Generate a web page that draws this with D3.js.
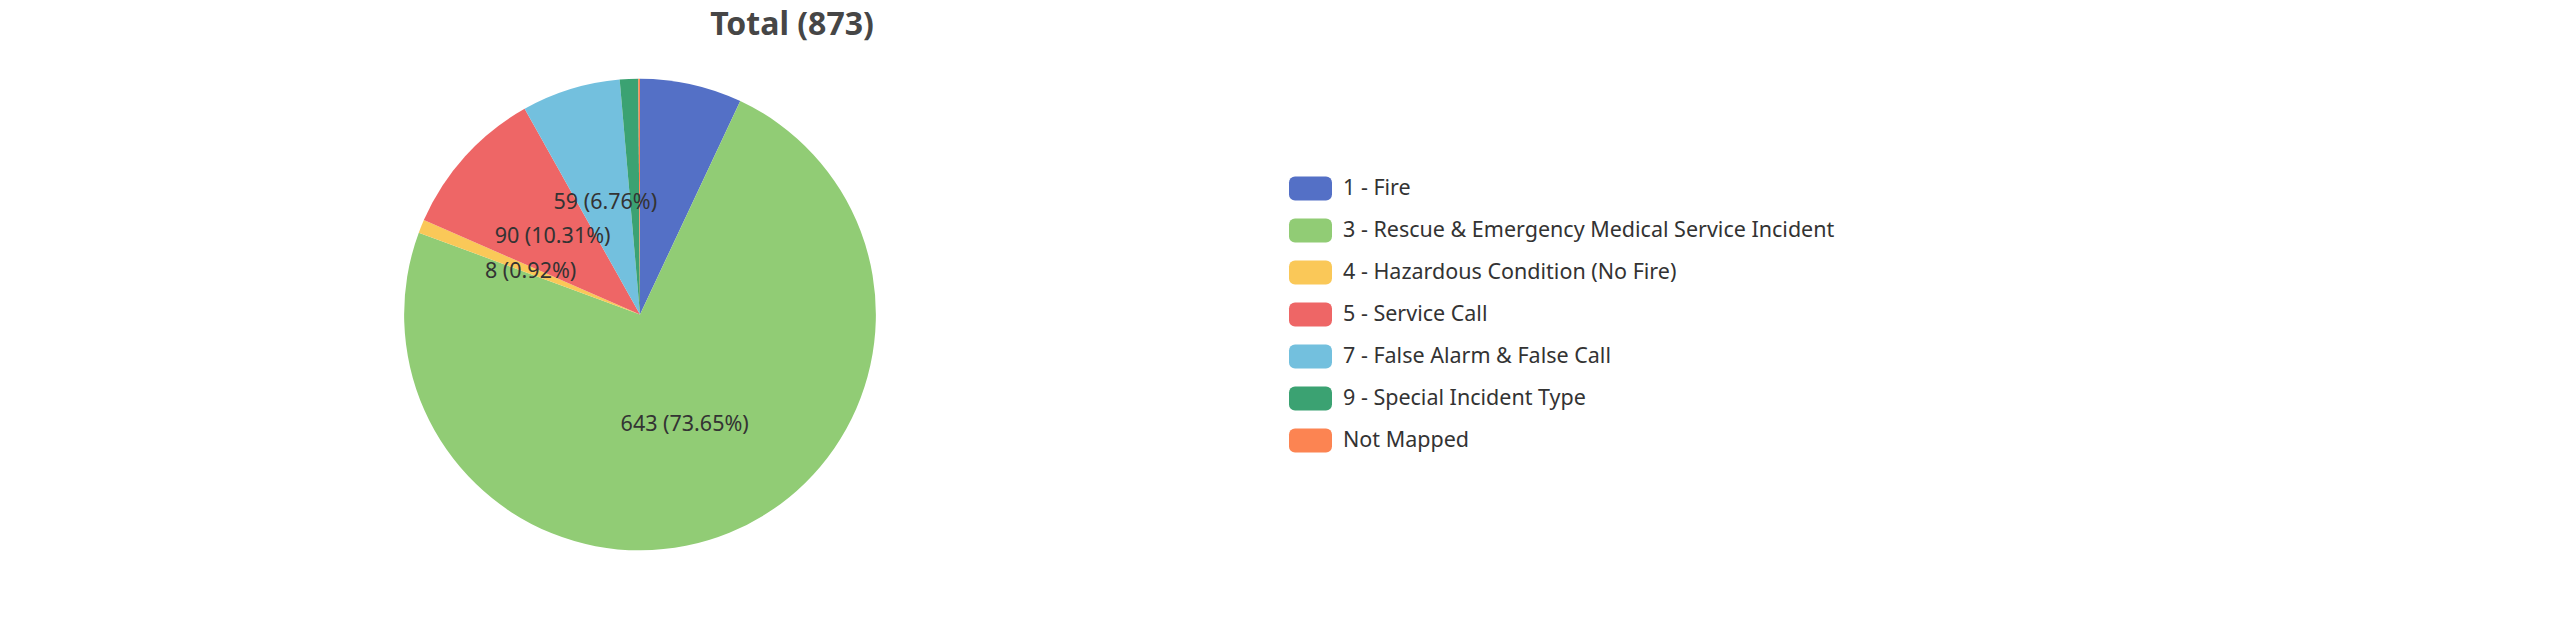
<!DOCTYPE html>
<html>
<head>
<meta charset="utf-8">
<script src="https://cdn.jsdelivr.net/npm/d3@7"></script>
<style>
    body { margin: 0; background: #fff; }
    text { font-family: "Segoe UI", "Noto Sans", sans-serif; }
</style>
</head>
<body>
<div id="chart"></div>
<script>
const categories = [
    "1 - Fire",
    "3 - Rescue & Emergency Medical Service Incident",
    "4 - Hazardous Condition (No Fire)",
    "5 - Service Call",
    "7 - False Alarm & False Call",
    "9 - Special Incident Type",
    "Not Mapped"
];
const counts = [61, 643, 8, 90, 59, 11, 1];
const colors = ["#5470c6", "#91cc75", "#fac858", "#ee6666", "#73c0de", "#3ba272", "#fc8452"];
// labels that were not hidden by overlap in the original
const showLabel = [false, true, true, true, true, false, false];

const total = d3.sum(counts);
const titleText = `Total (${total})`;

function drawPie() {
    const width = 2560, height = 629;

    const svg = d3.select("#chart")
        .append("svg")
        .attr("width", width)
        .attr("height", height);

    // title
    svg.append("text")
        .attr("x", 792)
        .attr("y", 35)
        .attr("text-anchor", "middle")
        .attr("font-size", 32)
        .attr("font-weight", "bold")
        .attr("fill", "#464646")
        .text(titleText);

    const cx = width * 0.25, cy = height / 2;
    const radius = Math.min(width, height) / 2 * 0.75;

    const pie = d3.pie().sort(null).value(d => d.value);
    const arc = d3.arc().innerRadius(0).outerRadius(radius);

    const slices = categories.map((c, i) => ({ name: c, value: counts[i], color: colors[i], label: showLabel[i] }));

    const g = svg.append("g")
        .attr("transform", `translate(${cx},${cy})`);

    const arcs = pie(slices);

    g.selectAll("path")
        .data(arcs)
        .join("path")
        .attr("d", arc)
        .attr("fill", d => d.data.color);

    g.selectAll("text")
        .data(arcs.filter(d => d.data.label))
        .join("text")
        .attr("transform", d => `translate(${arc.centroid(d)})`)
        .attr("text-anchor", "middle")
        .attr("dy", "0.35em")
        .attr("font-size", 21.5)
        .attr("fill", "#333")
        .text(d => `${d.data.value} (${(d.data.value / total * 100).toFixed(2)}%)`);

    // legend, vertically centred on the right
    const itemH = 42;
    const legendTop = cy - (categories.length * itemH) / 2;
    const legend = svg.append("g")
        .attr("transform", `translate(1289,${legendTop})`);

    const items = legend.selectAll("g")
        .data(slices)
        .join("g")
        .attr("transform", (d, i) => `translate(0,${i * itemH})`);

    items.append("rect")
        .attr("x", 0)
        .attr("y", 9)
        .attr("width", 43)
        .attr("height", 24)
        .attr("rx", 6)
        .attr("fill", d => d.color);

    items.append("text")
        .attr("x", 54)
        .attr("y", 20)
        .attr("dy", "0.35em")
        .attr("font-size", 21.5)
        .attr("fill", "#333")
        .text(d => d.name);
}

drawPie();
</script>
</body>
</html>
